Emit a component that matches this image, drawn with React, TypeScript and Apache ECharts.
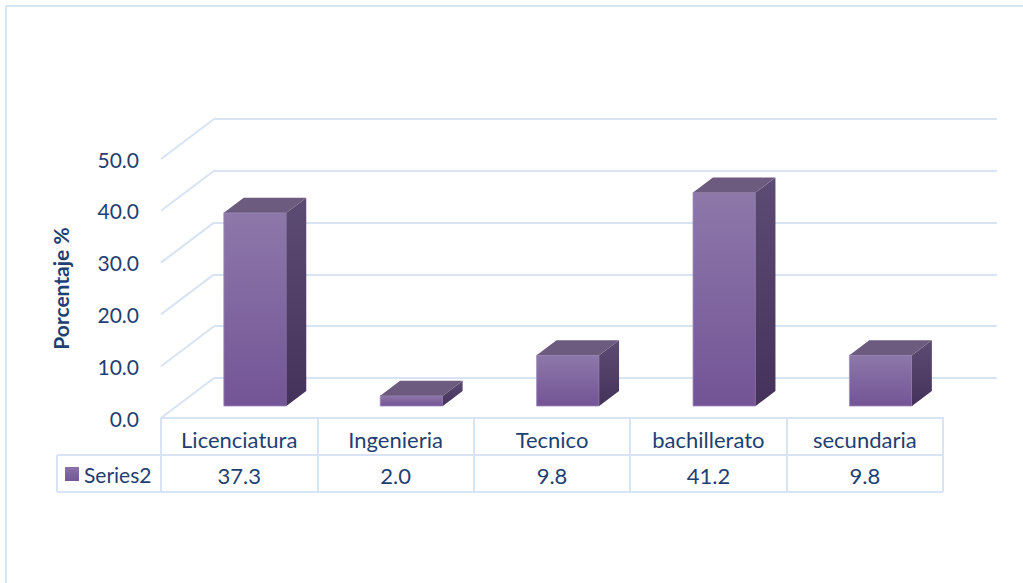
import React, { useEffect, useRef } from "react";
import * as echarts from "echarts";

const categories = ["Licenciatura", "Ingenieria", "Tecnico", "bachillerato", "secundaria"];
const values = [37.3, 2.0, 9.8, 41.2, 9.8];
const seriesName = "Series2";
const yTicks = [0, 10, 20, 30, 40, 50];
const yAxisTitle = "Porcentaje %";

const FONT = "Lato, 'Open Sans', sans-serif";
const TEXT = "#1f3f73";
const GRID = "#d8e3f3";
const DX = 53;
const DY = -40;
const F1 = 0.3;
const F2 = 0.675;

export default function App() {
  const ref = useRef<HTMLDivElement>(null);
  useEffect(() => {
    document.body.style.margin = "0";
    const chart = echarts.init(ref.current!, null, { renderer: "svg" });
    const option: any = {
      animation: false,
      backgroundColor: "#ffffff",
      grid: [
        { left: 161, right: 80, top: 159, bottom: 165 },
        { left: 214, right: 26, top: 119, bottom: 205 },
      ],
      xAxis: [
        {
          type: "category",
          gridIndex: 0,
          data: categories,
          position: "bottom",
          axisLine: { show: true, lineStyle: { color: GRID, width: 2 } },
          axisTick: { show: true, length: 74, lineStyle: { color: GRID, width: 2 } },
          axisLabel: { color: TEXT, fontFamily: FONT, fontSize: 22, margin: 10 },
        },
        {
          type: "category",
          gridIndex: 0,
          data: values.map((v) => v.toFixed(1)),
          position: "bottom",
          offset: 37,
          axisLine: { show: false },
          axisTick: { show: false },
          axisLabel: { color: TEXT, fontFamily: FONT, fontSize: 22, margin: 9 },
        },
        { type: "category", gridIndex: 1, data: categories, show: false },
      ],
      yAxis: [
        {
          type: "value",
          gridIndex: 0,
          min: 0,
          max: 50,
          interval: 10,
          splitLine: { show: false },
          axisLine: { show: false },
          axisTick: { show: false },
          axisLabel: {
            color: TEXT,
            fontFamily: FONT,
            fontSize: 21,
            margin: 22,
            formatter: (v: number) => v.toFixed(1),
          },
          name: yAxisTitle,
          nameLocation: "middle",
          nameGap: 90,
          nameRotate: 90,
          nameTextStyle: { color: TEXT, fontFamily: FONT, fontSize: 21, fontWeight: "bold" },
        },
        {
          type: "value",
          gridIndex: 1,
          min: 0,
          max: 50,
          interval: 10,
          axisLabel: { show: false },
          axisLine: { show: false },
          axisTick: { show: false },
          splitLine: { show: true, lineStyle: { color: GRID, width: 2 } },
        },
      ],
      series: [
        {
          type: "custom",
          xAxisIndex: 0,
          yAxisIndex: 0,
          data: yTicks.map((t) => [0, t]),
          silent: true,
          renderItem: (params: any, api: any) => {
            const c = api.coord([api.value(0), api.value(1)]);
            const bw = api.size([1, 0])[0];
            const x = c[0] - bw / 2;
            return {
              type: "line",
              shape: { x1: x, y1: c[1], x2: x + DX, y2: c[1] + DY },
              style: { stroke: GRID, lineWidth: 2 },
            };
          },
        },
        {
          type: "custom",
          name: seriesName,
          xAxisIndex: 0,
          yAxisIndex: 0,
          data: values.map((v, i) => [i, v]),
          renderItem: (params: any, api: any) => {
            const i = api.value(0);
            const v = api.value(1);
            const c0 = api.coord([i, 0]);
            const c1 = api.coord([i, v]);
            const bw = api.size([1, 0])[0];
            const w = bw * 0.4;
            const x = c0[0] - w / 2 + DX * F1;
            const yb = c0[1] + DY * F1;
            const yt = c1[1] + DY * F1;
            const dx = DX * (F2 - F1);
            const dy = DY * (F2 - F1);
            return {
              type: "group",
              children: [
                {
                  type: "rect",
                  shape: { x, y: yt, width: w, height: yb - yt },
                  style: {
                    fill: new echarts.graphic.LinearGradient(0, 0, 0, 1, [
                      { offset: 0, color: "#8d78a9" },
                      { offset: 1, color: "#735496" },
                    ]),
                    stroke: "#9d8bbb",
                    lineWidth: 0.8,
                  },
                },
                {
                  type: "polygon",
                  shape: {
                    points: [
                      [x + w, yt],
                      [x + w + dx, yt + dy],
                      [x + w + dx, yb + dy],
                      [x + w, yb],
                    ],
                  },
                  style: {
                    fill: new echarts.graphic.LinearGradient(0, 0, 0, 1, [
                      { offset: 0, color: "#5c4b73" },
                      { offset: 1, color: "#45325a" },
                    ]),
                  },
                },
                {
                  type: "polygon",
                  shape: {
                    points: [
                      [x, yt],
                      [x + dx, yt + dy],
                      [x + w + dx, yt + dy],
                      [x + w, yt],
                    ],
                  },
                  style: { fill: "#6c5b7f" },
                },
              ],
            };
          },
        },
      ],
      graphic: [
        {
          type: "rect",
          shape: { x: 6, y: 6, width: 1040, height: 620 },
          style: { fill: "none", stroke: "#dae5f4", lineWidth: 2 },
          silent: true,
        },
        {
          type: "line",
          shape: { x1: 57, y1: 455, x2: 943, y2: 455 },
          style: { stroke: GRID, lineWidth: 2 },
        },
        {
          type: "line",
          shape: { x1: 57, y1: 492, x2: 943, y2: 492 },
          style: { stroke: GRID, lineWidth: 2 },
        },
        {
          type: "line",
          shape: { x1: 57, y1: 455, x2: 57, y2: 492 },
          style: { stroke: GRID, lineWidth: 2 },
        },
        {
          type: "rect",
          shape: { x: 65, y: 467, width: 14, height: 14 },
          style: {
            fill: new echarts.graphic.LinearGradient(0, 0, 0, 1, [
              { offset: 0, color: "#8a72a6" },
              { offset: 1, color: "#73569a" },
            ]),
          },
        },
        {
          type: "text",
          x: 84,
          y: 474,
          style: {
            text: seriesName,
            fill: TEXT,
            font: `21px ${FONT}`,
            verticalAlign: "middle",
          },
        },
      ],
    };
    chart.setOption(option);
    return () => chart.dispose();
  }, []);
  return (
    <div
      ref={ref}
      style={{ position: "fixed", left: 0, top: 0, width: 1023, height: 583 }}
    />
  );
}
